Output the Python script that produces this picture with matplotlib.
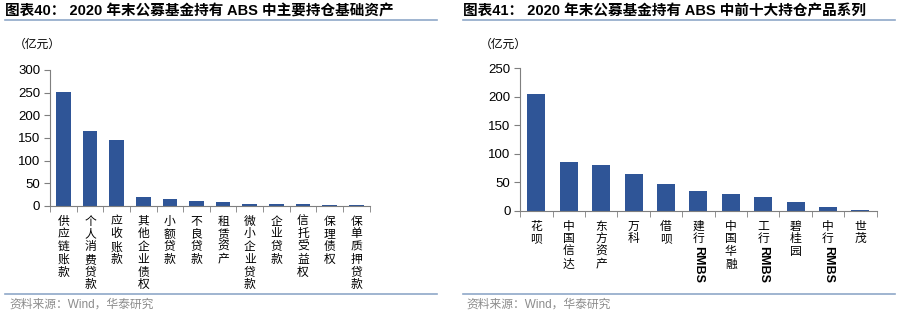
import matplotlib.pyplot as plt
import numpy as np
from matplotlib.lines import Line2D

plt.rcParams['font.family'] = ['Liberation Sans', 'Noto Sans CJK SC']

# left panel: main underlying assets
cats1 = ['供应链账款', '个人消费贷款', '应收账款', '其他企业债权', '小额贷款', '不良贷款',
         '租赁资产', '微小企业贷款', '企业贷款', '信托受益权', '保理债权', '保单质押贷款']
vals1 = [252, 165, 146, 20, 16, 10, 8, 5, 4, 4, 2, 2]

# right panel: top 10 product series
cats2 = ['花呗', '中国信达', '东方资产', '万科', '借呗', '建行RMBS', '中国华融',
         '工行RMBS', '碧桂园', '中行RMBS', '世茂']
vals2 = [204, 86, 80, 65, 47, 34, 29, 24, 16, 7, 1]

titles = ['图表40： 2020 年末公募基金持有 ABS 中主要持仓基础资产',
          '图表41： 2020 年末公募基金持有 ABS 中前十大持仓产品系列']
source = '资料来源：Wind，华泰研究'

bar_color = '#2F5597'
line_color = '#8FA8C8'
axis_color = '#7F7F7F'

fig = plt.figure(figsize=(9, 3.12), dpi=100)


def draw(ax, cats, vals, ymax, step):
    x = np.arange(len(cats))
    ax.bar(x, vals, width=0.55, color=bar_color)
    ax.set_xlim(-0.5, len(cats) - 0.5)
    ax.set_ylim(0, ymax)
    ax.set_yticks(np.arange(0, ymax + 1, step))
    ax.tick_params(axis='y', labelsize=9.5, length=4, color=axis_color, pad=3)
    for s in ['top', 'right']:
        ax.spines[s].set_visible(False)
    for s in ['left', 'bottom']:
        ax.spines[s].set_color(axis_color)
    ax.set_xticks(x)
    labels = []
    for c in cats:
        if c.endswith('RMBS'):
            labels.append('\n'.join(c[:-4]))
        else:
            labels.append('\n'.join(c))
    ax.set_xticklabels(labels, fontsize=8.5, linespacing=1.08, va='top')
    ax.tick_params(axis='x', length=0, pad=7)
    ax.set_xticks(np.arange(-0.5, len(cats)), minor=True)
    ax.tick_params(axis='x', which='minor', length=4, color=axis_color)
    for i, c in enumerate(cats):
        if c.endswith('RMBS'):
            ax.annotate('RMBS', xy=(i, 0), xycoords=('data', 'axes fraction'),
                        xytext=(0, -25), textcoords='offset points',
                        rotation=-90, ha='center', va='top', fontsize=9,
                        fontweight='bold')


ax1 = fig.add_axes([0.0556, 0.340, 0.355, 0.436])
draw(ax1, cats1, vals1, 300, 50)
ax2 = fig.add_axes([0.578, 0.324, 0.396, 0.458])
draw(ax2, cats2, vals2, 250, 50)

for x0, x1, t, ux in [(0.006, 0.486, titles[0], 0.015), (0.514, 0.994, titles[1], 0.533)]:
    fig.text(x0, 0.962, t, fontsize=10.5, fontweight='bold', va='center', ha='left')
    fig.add_artist(Line2D([x0, x1], [0.935, 0.935], color=line_color, lw=1.2))
    fig.text(ux, 0.855, '（亿元）', fontsize=8.5, va='center', ha='left')
    fig.add_artist(Line2D([x0, x1], [0.057, 0.057], color=line_color, lw=1.2))
    fig.text(x0 + 0.004, 0.025, source, fontsize=8.5, color='#8C8C8C', va='center', ha='left')

fig.savefig('out.png', dpi=100)
